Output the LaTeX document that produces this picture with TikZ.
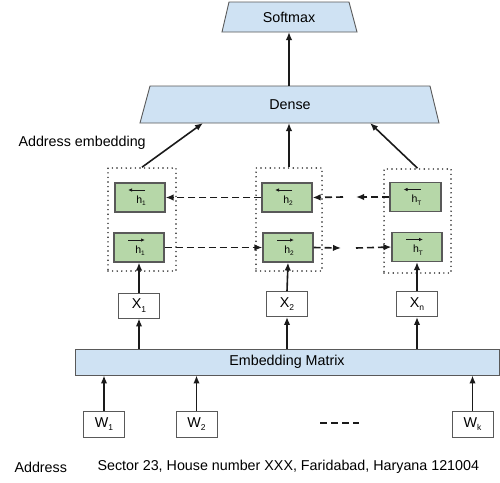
\documentclass[tikz,border=0pt]{standalone}
\usepackage{fontspec}
\setmainfont{Liberation Sans}
\usetikzlibrary{arrows.meta}
\definecolor{bluefill}{HTML}{CFE2F3}
\definecolor{greenfill}{HTML}{B6D7A8}
\definecolor{edgegray}{HTML}{595959}
\definecolor{linegray}{HTML}{1A1A1A}
\newcommand{\lowsub}[1]{\raisebox{-3.5pt}{\fontsize{8.5}{9}\selectfont #1}}
\newcommand{\hsub}[1]{\raisebox{-2.5pt}{\fontsize{6.5}{7}\selectfont #1}}
\begin{document}
\begin{tikzpicture}[x=1pt,y=-1pt,
  font=\fontsize{14.3}{16}\selectfont,
  arr/.style={draw=linegray, line width=1.6pt, -{Latex[length=8pt,width=6.5pt]}},
  dsh/.style={arr, dash pattern=on 7pt off 4pt},
  dotbox/.style={draw=linegray, line width=1.6pt, dash pattern=on 0pt off 4.6pt, line cap=round, inner sep=0pt},
  hbox/.style={draw=edgegray, line width=1.1pt, fill=greenfill, minimum width=50pt, minimum height=29pt, inner sep=0pt},
  wbox/.style={draw=edgegray, line width=0.9pt, fill=white, minimum width=41pt, minimum height=25pt, inner sep=0pt},
  trap/.style={draw=edgegray, line width=0.9pt, fill=bluefill},
  small/.style={font=\fontsize{10.5}{12}\selectfont},
  minarr/.style={draw=linegray, line width=1pt, -{Latex[length=4pt,width=3.5pt]}}
]
\useasboundingbox (0,0) rectangle (500,482);

% Softmax
\draw[trap] (229,2) -- (349,2) -- (357,32) -- (222,32) -- cycle;
\node (soft) at (289,17) {Softmax};
\coordinate (softb) at (289,32);

% Dense
\draw[trap] (150,86) -- (430,86) -- (439,123) -- (140,123) -- cycle;
\node (dense) at (290,105) {Dense};
\coordinate (densetop) at (289,86);
\coordinate (denseL) at (203,123);
\coordinate (denseM) at (289,123);
\coordinate (denseR) at (370,123);

\draw[arr] (densetop) -- (softb);

\node[anchor=west] (addremb) at (15,143) {Address embedding};

% dotted column boxes
\node[dotbox, minimum width=68pt, minimum height=103pt] (c1) at (142,219.5) {};
\node[dotbox, minimum width=66pt, minimum height=103pt] (c2) at (289,219.5) {};
\node[dotbox, minimum width=67pt, minimum height=104pt] (c3) at (417.5,221) {};

\draw[arr] (c1.north) -- (denseL);
\draw[arr] (c2.north) -- (denseM);
\draw[arr] (c3.north) -- (denseR);

% green boxes
\node[hbox] (b1) at (140,197.5) {};
\node[hbox] (f1) at (139,247.5) {};
\node[hbox] (b2) at (287,197.5) {};
\node[hbox] (f2) at (288,247.5) {};
\node[hbox, minimum width=51pt] (b3) at (415.5,197) {};
\node[hbox] (f3) at (417,247) {};

\foreach \n/\s in {b1/1,b2/2,b3/T}{
  \node[small] at ([xshift=1pt,yshift=-3pt]\n.center) {h\hsub{\s}};
  \draw[minarr] ([xshift=5pt,yshift=7.5pt]\n.center) -- ([xshift=-12pt,yshift=7.5pt]\n.center);
}
\foreach \n/\s in {f1/1,f2/2,f3/T}{
  \node[small] at ([xshift=1pt,yshift=-3pt]\n.center) {h\hsub{\s}};
  \draw[minarr] ([xshift=-11pt,yshift=7.5pt]\n.center) -- ([xshift=6pt,yshift=7.5pt]\n.center);
}

% recurrent dashed arrows
\draw[dsh] (b2.west) -- (b1.east);
\draw[dsh] (f1.east) -- (f2.west);
\coordinate (bgapR) at (356,197);
\coordinate (bgapL) at (343,197);
\draw[dsh] (b3.west) -- (bgapR);
\draw[dsh] (bgapL) -- (b2.east);
\coordinate (fgapL) at (341,248);
\coordinate (fgapR) at (356,248);
\draw[dsh] (f2.east) -- (fgapL);
\draw[dsh] (fgapR) -- (f3.west);

% X boxes
\node[wbox] (x1) at (139,305.5) {X\lowsub{1}};
\node[wbox] (x2) at (287,304) {X\lowsub{2}};
\node[wbox] (xn) at (417,304) {X\lowsub{n}};

\draw[arr] (x1.north) -- (f1.south);
\draw[arr] (x2.north) -- (f2.south);
\draw[arr] (xn.north) -- (f3.south);

% Embedding matrix
\node[draw=edgegray, line width=0.9pt, fill=bluefill, minimum width=424pt, minimum height=26pt, inner sep=0pt] (emb) at (287,362) {Embedding Matrix};

\draw[arr] (emb.north -| x1) -- (x1.south);
\draw[arr] (emb.north -| x2) -- (x2.south);
\draw[arr] (emb.north -| xn) -- (xn.south);

% W boxes
\node[wbox, minimum height=26pt] (w1) at (104,424) {W\lowsub{1}};
\node[wbox, minimum height=26pt] (w2) at (196.5,424) {W\lowsub{2}};
\node[wbox, minimum height=26pt] (wk) at (472.5,424) {W\lowsub{k}};
\draw[line width=1.6pt, draw=linegray, dash pattern=on 7pt off 4pt] (320,423) -- (359,423);

\draw[arr] (w1.north) -- (emb.south -| w1);
\draw[arr] (w2.north) -- (emb.south -| w2);
\draw[arr] (wk.north) -- (emb.south -| wk);

% address
\node[anchor=west] (addr) at (11,467) {Address};
\node[anchor=west] (addrtext) at (94,467) {Sector 23, House number XXX, Faridabad, Haryana 121004};
\end{tikzpicture}
\end{document}
